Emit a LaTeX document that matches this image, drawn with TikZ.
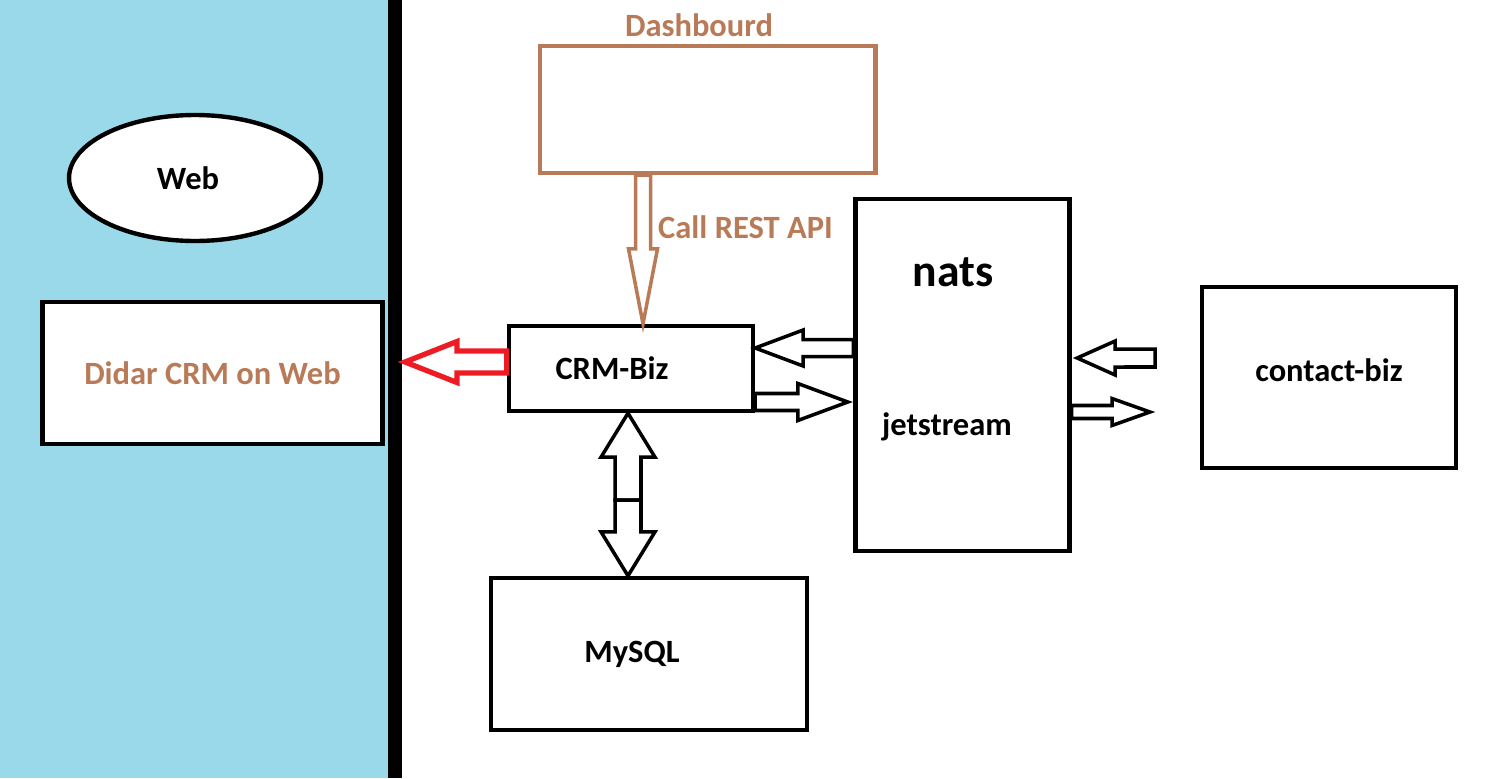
\documentclass[tikz,border=0pt]{standalone}
\usepackage{fontspec}
\setmainfont{Carlito}
\usetikzlibrary{positioning, calc, shapes.geometric}
\definecolor{webblue}{RGB}{153,217,234}
\definecolor{paintbrown}{RGB}{185,122,87}
\definecolor{paintred}{RGB}{237,28,36}

\tikzset{
	box/.style={draw, rectangle, fill=white, line width=2.5pt},
	boxtext/.style={font=\fontsize{18.5}{22}\selectfont\bfseries},
	blockarrow/.style n args={3}{fill=white, line width=2pt, to path={
			($(\tikztotarget)!#3!(\tikztostart)$) coordinate (neck)
			($(\tikztostart)!#1!90:(\tikztotarget)$) -- ($(neck)!#1!90:(\tikztotarget)$)
			-- ($(neck)!#2!90:(\tikztotarget)$) -- (\tikztotarget)
			-- ($(neck)!#2!-90:(\tikztotarget)$) -- ($(neck)!#1!-90:(\tikztotarget)$)
			-- ($(\tikztostart)!#1!-90:(\tikztotarget)$) -- cycle}},
}

\begin{document}
\begin{tikzpicture}[x=0.02cm, y=-0.02cm]
			\useasboundingbox (0,0) rectangle (1491,778);
			
			%----------------------------------------------------------------
			\fill [webblue] (0,0) rectangle (395,778);
			\draw [line width=0.28cm] (395,0) -- (395,778);
			
			\node(web) [ellipse, draw, fill=white, line width=2.5pt, minimum width=5.04cm, minimum height=2.52cm, label={[boxtext, xshift=-0.14cm]center:Web}] at (195,178) {};
			\node(didar) [box, minimum width=6.8cm, minimum height=2.85cm, boxtext, text=paintbrown] at (212.5,373) {Didar CRM on Web};
			\coordinate (wallhit) at (405,362);
			
			%----------------------------------------------------------------
			\node(dash) [box, draw=paintbrown, minimum width=6.71cm, minimum height=2.54cm] at (707.75,109.5) {};
			\node(dashtitle) [boxtext, text=paintbrown] at (699,25) {Dashbourd};
			\node(crm) [box, minimum width=4.88cm, minimum height=1.7cm, label={[boxtext, xshift=-0.38cm]center:CRM-Biz}] at (631,368.5) {};
			\node(rest) [boxtext, text=paintbrown, anchor=west] at (652,227) {Call REST API};
			\node(mysql) [box, minimum width=6.32cm, minimum height=3.04cm, label={[boxtext, xshift=-0.34cm]center:MySQL}] at (649,654) {};
			\coordinate (dbmid) at (628,500);
			
			%----------------------------------------------------------------
			\node(nats) [box, minimum width=4.28cm, minimum height=7.03cm] at (962.5,375) {};
			\node(natsname) [font=\fontsize{26}{30}\selectfont\bfseries] at (953,272) {nats};
			\node(jet) [boxtext] at (947,427) {jetstream};
			
			\node(contact) [box, minimum width=5.08cm, minimum height=3.62cm, label={[boxtext, yshift=0.15cm]center:contact-biz}] at (1329,377.5) {};
			\coordinate (contactout) at (1155,358);
			\coordinate (contactin) at (1150,412);
			
			%----------------------------------------------------------------
			\draw [blockarrow={0.15cm}{0.29cm}{1.5cm}, draw=paintbrown]
			([xshift=-1.295cm]dash.south) to ([xshift=0.24cm]crm.north);
			\draw [blockarrow={0.22cm}{0.41cm}{1.04cm}, draw=paintred, line width=3pt]
			([yshift=0.13cm]crm.west) to (wallhit);
			
			\draw [blockarrow={0.17cm}{0.36cm}{0.96cm}]
			([yshift=0.54cm]nats.west) to ([yshift=0.41cm]crm.east);
			\draw [blockarrow={0.17cm}{0.37cm}{1cm}]
			([yshift=-0.67cm]crm.east) to ([xshift=-0.11cm, yshift=-0.54cm]nats.west);
			
			\draw [blockarrow={0.18cm}{0.34cm}{0.76cm}]
			(contactout) to ([xshift=0.11cm, yshift=0.34cm]nats.east);
			\draw [blockarrow={0.13cm}{0.27cm}{0.76cm}]
			([yshift=-0.74cm]nats.east) to (contactin);
			
			\draw [blockarrow={0.26cm}{0.54cm}{0.88cm}] (dbmid) to (dbmid |- crm.south);
			\draw [blockarrow={0.26cm}{0.54cm}{0.88cm}] (dbmid) to (dbmid |- mysql.north);
			
		\end{tikzpicture}
\end{document}
